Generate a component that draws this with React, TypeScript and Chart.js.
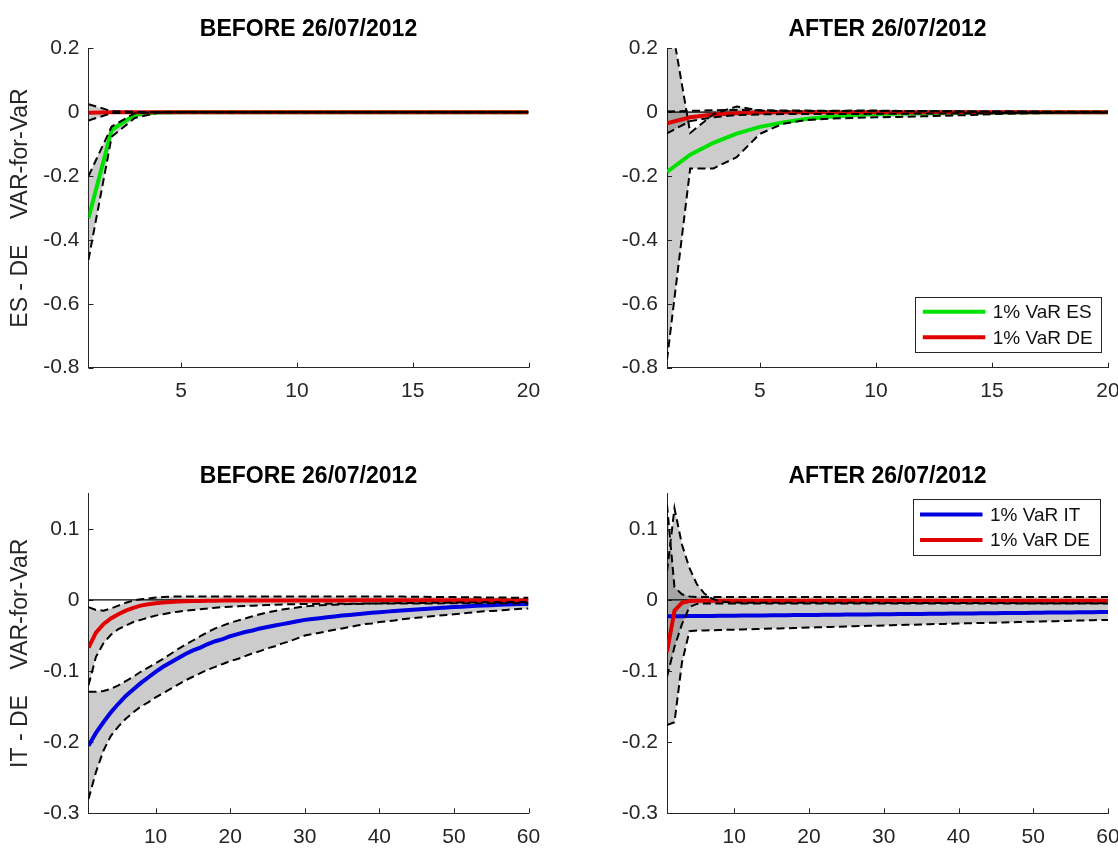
import React, { useEffect, useRef } from "react";
import { Chart, registerables } from "chart.js";

Chart.register(...registerables);

const FONT = '"Liberation Sans", Arial, Helvetica, sans-serif';
const INK = "#262626";
const BAND_FILL = "rgba(0,0,0,0.2)";
Chart.defaults.font.family = FONT;

// ---------------- categories / ticks / texts ----------------
const horizon20 = [1, 2, 3, 4, 5, 6, 7, 8, 9, 10, 11, 12, 13, 14, 15, 16, 17, 18, 19, 20];
const horizon60 = [
  1, 2, 3, 4, 5, 6, 7, 8, 9, 10, 11, 12, 13, 14, 15, 16, 17, 18, 19, 20,
  21, 22, 23, 24, 25, 26, 27, 28, 29, 30, 31, 32, 33, 34, 35, 36, 37, 38, 39, 40,
  41, 42, 43, 44, 45, 46, 47, 48, 49, 50, 51, 52, 53, 54, 55, 56, 57, 58, 59, 60,
];
const xTicks20 = [5, 10, 15, 20];
const xTicks60 = [10, 20, 30, 40, 50, 60];
const yTicksEs = [-0.8, -0.6, -0.4, -0.2, 0, 0.2];
const yTicksIt = [-0.3, -0.2, -0.1, 0, 0.1];
const titleBefore = "BEFORE 26/07/2012";
const titleAfter = "AFTER 26/07/2012";
const yLabelEs = "ES - DE    VAR-for-VaR";
const yLabelIt = "IT - DE    VAR-for-VaR";
const labelES = "1% VaR ES";
const labelDE = "1% VaR DE";
const labelIT = "1% VaR IT";

// ---------------- ES - DE, before ----------------
const esBeforeEs = [-0.332, -0.056, -0.008, -0.001, 0, 0, 0, 0, 0, 0, 0, 0, 0, 0, 0, 0, 0, 0, 0, 0];
const esBeforeEsLow = [-0.462, -0.077, -0.018, -0.002, 0, 0, 0, 0, 0, 0, 0, 0, 0, 0, 0, 0, 0, 0, 0, 0];
const esBeforeEsUp = [-0.2, -0.045, -0.003, 0, 0, 0, 0, 0, 0, 0, 0, 0, 0, 0, 0, 0, 0, 0, 0, 0];
const esBeforeDe = [-0.002, 0, 0, 0, 0, 0, 0, 0, 0, 0, 0, 0, 0, 0, 0, 0, 0, 0, 0, 0];
const esBeforeDeLow = [-0.026, -0.003, -0.001, 0, 0, 0, 0, 0, 0, 0, 0, 0, 0, 0, 0, 0, 0, 0, 0, 0];
const esBeforeDeUp = [0.025, 0.003, 0.001, 0, 0, 0, 0, 0, 0, 0, 0, 0, 0, 0, 0, 0, 0, 0, 0, 0];

// ---------------- ES - DE, after ----------------
const esAfterEs = [-0.187, -0.133, -0.096, -0.067, -0.046, -0.032, -0.021, -0.014, -0.009, -0.006, -0.004, -0.003, -0.002, -0.0015, -0.001, -0.001, -0.0005, 0, 0, 0];
const esAfterEsLow = [-0.775, -0.176, -0.176, -0.141, -0.068, -0.036, -0.025, -0.02, -0.018, -0.016, -0.015, -0.013, -0.011, -0.009, -0.006, -0.004, -0.003, -0.002, -0.002, -0.001];
const esAfterEsUp = [0.36, -0.065, -0.006, 0.018, 0.005, 0.003, 0.003, 0.004, 0.005, 0.005, 0.004, 0.004, 0.003, 0.002, 0.001, 0.001, 0.001, 0, 0, 0];
const esAfterDe = [-0.035, -0.016, -0.007, -0.003, -0.001, 0, 0, 0, 0, 0, 0, 0, 0, 0, 0, 0, 0, 0, 0, 0];
const esAfterDeLow = [-0.066, -0.028, -0.016, -0.009, -0.007, -0.006, -0.006, -0.006, -0.006, -0.005, -0.005, -0.004, -0.004, -0.003, -0.003, -0.002, -0.002, -0.001, -0.001, -0.001];
const esAfterDeUp = [0.002, 0.004, 0.006, 0.007, 0.006, 0.005, 0.005, 0.004, 0.004, 0.004, 0.003, 0.003, 0.003, 0.002, 0.002, 0.002, 0.001, 0.001, 0.001, 0.001];

// ---------------- IT - DE, before ----------------
const itBeforeIt = [
  -0.205, -0.187, -0.172, -0.158, -0.146, -0.135, -0.126, -0.117, -0.109, -0.101,
  -0.094, -0.088, -0.082, -0.076, -0.071, -0.067, -0.062, -0.058, -0.055, -0.051,
  -0.048, -0.045, -0.043, -0.04, -0.038, -0.036, -0.034, -0.032, -0.03, -0.028,
  -0.0268, -0.0256, -0.0244, -0.0232, -0.022, -0.021, -0.02, -0.019, -0.018, -0.0172,
  -0.0164, -0.0156, -0.0148, -0.014, -0.0133, -0.0126, -0.0119, -0.0112, -0.0106, -0.01,
  -0.0094, -0.0088, -0.0083, -0.0078, -0.0073, -0.0069, -0.0065, -0.0061, -0.0058, -0.0055,
];
const itBeforeItLow = [
  -0.28, -0.242, -0.212, -0.191, -0.178, -0.167, -0.158, -0.15, -0.144, -0.137,
  -0.131, -0.125, -0.119, -0.113, -0.108, -0.103, -0.098, -0.094, -0.09, -0.086,
  -0.083, -0.079, -0.075, -0.072, -0.068, -0.065, -0.061, -0.058, -0.054, -0.05,
  -0.048, -0.046, -0.044, -0.042, -0.04, -0.038, -0.036, -0.034, -0.033, -0.031,
  -0.03, -0.029, -0.027, -0.026, -0.025, -0.024, -0.023, -0.022, -0.021, -0.02,
  -0.019, -0.018, -0.017, -0.016, -0.0155, -0.015, -0.014, -0.013, -0.0125, -0.012,
];
const itBeforeItUp = [
  -0.129, -0.129, -0.128, -0.125, -0.12, -0.114, -0.108, -0.101, -0.095, -0.089,
  -0.083, -0.076, -0.069, -0.063, -0.057, -0.051, -0.045, -0.04, -0.036, -0.032,
  -0.029, -0.026, -0.023, -0.02, -0.0175, -0.0155, -0.0135, -0.012, -0.0105, -0.009,
  -0.0082, -0.0076, -0.0071, -0.0066, -0.0062, -0.0058, -0.0055, -0.0052, -0.005, -0.0048,
  -0.0046, -0.0045, -0.0044, -0.0043, -0.0042, -0.0041, -0.004, -0.0039, -0.0038, -0.0037,
  -0.0036, -0.0035, -0.0034, -0.0033, -0.0032, -0.0031, -0.003, -0.003, -0.0029, -0.0028,
];
const itBeforeDe = [
  -0.067, -0.046, -0.034, -0.026, -0.02, -0.015, -0.011, -0.008, -0.006, -0.0045,
  -0.0035, -0.0028, -0.0022, -0.0018, -0.0015, -0.0013, -0.0011, -0.001, -0.0009, -0.0008,
  -0.0008, -0.0007, -0.0007, -0.0007, -0.0007, -0.0006, -0.0006, -0.0006, -0.0006, -0.0006,
  -0.0006, -0.0006, -0.0006, -0.0006, -0.0006, -0.0005, -0.0005, -0.0005, -0.0005, -0.0005,
  -0.0005, -0.0005, -0.0005, -0.0005, -0.0005, -0.0005, -0.0005, -0.0005, -0.0005, -0.0005,
  -0.0005, -0.0005, -0.0005, -0.0005, -0.0005, -0.0005, -0.0005, -0.0005, -0.0005, -0.0005,
];
const itBeforeDeLow = [
  -0.12, -0.08, -0.061, -0.049, -0.041, -0.036, -0.031, -0.028, -0.025, -0.022,
  -0.02, -0.018, -0.0165, -0.015, -0.014, -0.013, -0.012, -0.011, -0.01, -0.0095,
  -0.009, -0.0085, -0.008, -0.0076, -0.0072, -0.0068, -0.0064, -0.006, -0.0058, -0.0056,
  -0.0055, -0.0054, -0.0054, -0.0053, -0.0053, -0.0052, -0.0052, -0.0051, -0.0051, -0.005,
  -0.005, -0.005, -0.0049, -0.0049, -0.0049, -0.0048, -0.0048, -0.0048, -0.0047, -0.0047,
  -0.0047, -0.0046, -0.0046, -0.0046, -0.0046, -0.0045, -0.0045, -0.0045, -0.0045, -0.0045,
];
const itBeforeDeUp = [
  -0.01, -0.014, -0.015, -0.012, -0.008, -0.004, -0.001, 0.001, 0.002, 0.0035,
  0.004, 0.0045, 0.005, 0.005, 0.005, 0.005, 0.005, 0.005, 0.005, 0.005,
  0.005, 0.005, 0.005, 0.005, 0.005, 0.005, 0.005, 0.005, 0.005, 0.005,
  0.005, 0.005, 0.005, 0.005, 0.005, 0.005, 0.005, 0.005, 0.005, 0.005,
  0.005, 0.0048, 0.0047, 0.0046, 0.0045, 0.0044, 0.0043, 0.0042, 0.0041, 0.004,
  0.0039, 0.0038, 0.0037, 0.0036, 0.0035, 0.0034, 0.0033, 0.0032, 0.0031, 0.003,
];

// ---------------- IT - DE, after ----------------
const itAfterIt = [
  -0.023, -0.0229, -0.0228, -0.0227, -0.0226, -0.0225, -0.0224, -0.0223, -0.0222, -0.0221,
  -0.022, -0.0219, -0.0218, -0.0217, -0.0216, -0.0215, -0.0214, -0.0213, -0.0212, -0.0211,
  -0.021, -0.0209, -0.0208, -0.0207, -0.0206, -0.0205, -0.0204, -0.0203, -0.0202, -0.0201,
  -0.02, -0.0199, -0.0198, -0.0197, -0.0196, -0.0195, -0.0194, -0.0193, -0.0192, -0.0191,
  -0.019, -0.0189, -0.0188, -0.0187, -0.0186, -0.0185, -0.0184, -0.0183, -0.0182, -0.0181,
  -0.018, -0.0178, -0.0177, -0.0176, -0.0175, -0.0173, -0.0172, -0.0171, -0.0169, -0.0168,
];
const itAfterItLow = [
  -0.176, -0.172, -0.088, -0.044, -0.043, -0.0428, -0.0425, -0.0423, -0.042, -0.0418,
  -0.0415, -0.0412, -0.0409, -0.0406, -0.0403, -0.04, -0.0397, -0.0394, -0.0391, -0.0388,
  -0.0385, -0.0382, -0.0379, -0.0376, -0.0373, -0.037, -0.0367, -0.0364, -0.0361, -0.0358,
  -0.0355, -0.0353, -0.035, -0.0347, -0.0345, -0.0342, -0.0339, -0.0337, -0.0334, -0.0332,
  -0.0329, -0.0326, -0.0324, -0.0321, -0.0319, -0.0316, -0.0313, -0.0311, -0.0308, -0.0306,
  -0.0303, -0.03, -0.0298, -0.0295, -0.0293, -0.029, -0.0287, -0.0285, -0.0282, -0.028,
];
const itAfterItUp = [
  0.04, 0.129, 0.078, 0.045, 0.022, 0.009, 0.002, -0.002, -0.003, -0.0035,
  -0.004, -0.004, -0.004, -0.004, -0.004, -0.004, -0.004, -0.004, -0.004, -0.004,
  -0.004, -0.004, -0.004, -0.004, -0.004, -0.004, -0.004, -0.004, -0.004, -0.004,
  -0.0041, -0.0041, -0.0041, -0.0041, -0.0042, -0.0042, -0.0042, -0.0042, -0.0043, -0.0043,
  -0.0043, -0.0043, -0.0044, -0.0044, -0.0044, -0.0044, -0.0044, -0.0045, -0.0045, -0.0045,
  -0.0045, -0.0045, -0.0045, -0.0045, -0.0045, -0.0045, -0.0045, -0.0045, -0.0045, -0.0045,
];
const itAfterDe = [
  -0.073, -0.015, -0.004, -0.0015, -0.001, -0.001, -0.001, -0.001, -0.001, -0.001,
  -0.001, -0.001, -0.001, -0.001, -0.001, -0.001, -0.001, -0.001, -0.001, -0.001,
  -0.001, -0.001, -0.001, -0.001, -0.001, -0.001, -0.001, -0.001, -0.001, -0.001,
  -0.001, -0.001, -0.001, -0.001, -0.001, -0.001, -0.001, -0.001, -0.001, -0.001,
  -0.001, -0.001, -0.001, -0.001, -0.001, -0.001, -0.001, -0.001, -0.001, -0.001,
  -0.001, -0.001, -0.001, -0.001, -0.001, -0.001, -0.001, -0.001, -0.001, -0.001,
];
const itAfterDeLow = [
  -0.108, -0.066, -0.034, -0.01, -0.0055, -0.005, -0.005, -0.005, -0.005, -0.005,
  -0.005, -0.005, -0.005, -0.005, -0.005, -0.005, -0.005, -0.005, -0.005, -0.005,
  -0.005, -0.005, -0.005, -0.005, -0.005, -0.005, -0.005, -0.005, -0.005, -0.005,
  -0.005, -0.005, -0.005, -0.005, -0.005, -0.005, -0.005, -0.005, -0.005, -0.005,
  -0.005, -0.005, -0.005, -0.005, -0.005, -0.005, -0.005, -0.005, -0.005, -0.005,
  -0.005, -0.005, -0.005, -0.005, -0.005, -0.005, -0.005, -0.005, -0.005, -0.005,
];
const itAfterDeUp = [
  0.134, 0.018, 0.008, 0.005, 0.004, 0.004, 0.004, 0.004, 0.004, 0.004,
  0.004, 0.004, 0.004, 0.004, 0.004, 0.004, 0.004, 0.004, 0.004, 0.004,
  0.004, 0.004, 0.004, 0.004, 0.004, 0.004, 0.004, 0.004, 0.004, 0.004,
  0.004, 0.004, 0.004, 0.004, 0.004, 0.004, 0.004, 0.004, 0.004, 0.004,
  0.004, 0.004, 0.004, 0.004, 0.004, 0.004, 0.004, 0.004, 0.004, 0.004,
  0.004, 0.004, 0.004, 0.004, 0.004, 0.004, 0.004, 0.004, 0.004, 0.004,
];

// ---------------- styles ----------------
const GREEN = "rgb(0,225,0)";
const RED = "rgb(225,0,0)";
const BLUE = "rgb(0,0,225)";
const TICK_FONT_SIZE = 21;
const TITLE_FONT = `bold 23px ${FONT}`;
const LEGEND_FONT = `19px ${FONT}`;

type Band = { lower: number[]; upper: number[] };
type SeriesSpec = { label: string; color: string; mid: number[]; band: Band };
type LegendSpec = { insetRight: number; insetTop?: number; insetBottom?: number; width: number; height: number };
type PanelSpec = {
  title: string;
  yLabel: string | null;
  horizon: number[];
  xTicks: number[];
  yTicks: number[];
  yMin: number;
  yMax: number;
  series: SeriesSpec[];
  legend: LegendSpec | null;
  box: { left: number; top: number; width: number; height: number };
  area: { left: number; right: number; top: number; bottom: number };
  titleY: number;
};

const panels: PanelSpec[] = [
  {
    title: titleBefore,
    yLabel: yLabelEs,
    horizon: horizon20,
    xTicks: xTicks20,
    yTicks: yTicksEs,
    yMin: -0.8,
    yMax: 0.2,
    series: [
      { label: labelES, color: GREEN, mid: esBeforeEs, band: { lower: esBeforeEsLow, upper: esBeforeEsUp } },
      { label: labelDE, color: RED, mid: esBeforeDe, band: { lower: esBeforeDeLow, upper: esBeforeDeUp } },
    ],
    legend: null,
    box: { left: 0, top: 0, width: 559, height: 424 },
    area: { left: 88.5, right: 528.5, top: 48.3, bottom: 367.7 },
    titleY: 30,
  },
  {
    title: titleAfter,
    yLabel: null,
    horizon: horizon20,
    xTicks: xTicks20,
    yTicks: yTicksEs,
    yMin: -0.8,
    yMax: 0.2,
    series: [
      { label: labelES, color: GREEN, mid: esAfterEs, band: { lower: esAfterEsLow, upper: esAfterEsUp } },
      { label: labelDE, color: RED, mid: esAfterDe, band: { lower: esAfterDeLow, upper: esAfterDeUp } },
    ],
    legend: { insetRight: 6.7, insetBottom: 16.7, width: 186, height: 54.5 },
    box: { left: 559, top: 0, width: 600, height: 424 },
    area: { left: 108, right: 549, top: 48.3, bottom: 367.7 },
    titleY: 30,
  },
  {
    title: titleBefore,
    yLabel: yLabelIt,
    horizon: horizon60,
    xTicks: xTicks60,
    yTicks: yTicksIt,
    yMin: -0.3,
    yMax: 0.15,
    series: [
      { label: labelIT, color: BLUE, mid: itBeforeIt, band: { lower: itBeforeItLow, upper: itBeforeItUp } },
      { label: labelDE, color: RED, mid: itBeforeDe, band: { lower: itBeforeDeLow, upper: itBeforeDeUp } },
    ],
    legend: null,
    box: { left: 0, top: 424, width: 559, height: 425 },
    area: { left: 88.5, right: 528.5, top: 69.3, bottom: 389.3 },
    titleY: 52.7,
  },
  {
    title: titleAfter,
    yLabel: null,
    horizon: horizon60,
    xTicks: xTicks60,
    yTicks: yTicksIt,
    yMin: -0.3,
    yMax: 0.15,
    series: [
      { label: labelIT, color: BLUE, mid: itAfterIt, band: { lower: itAfterItLow, upper: itAfterItUp } },
      { label: labelDE, color: RED, mid: itAfterDe, band: { lower: itAfterDeLow, upper: itAfterDeUp } },
    ],
    legend: { insetRight: 8.5, insetTop: 6, width: 187, height: 55.5 },
    box: { left: 559, top: 424, width: 600, height: 425 },
    area: { left: 108, right: 549, top: 69.3, bottom: 389.3 },
    titleY: 52.7,
  },
];

// ---------------- plugins ----------------
const inwardTicks = {
  id: "inwardTicks",
  beforeDatasetsDraw(chart: any) {
    const { ctx, chartArea, scales } = chart;
    const len = 5;
    ctx.save();
    ctx.strokeStyle = INK;
    ctx.lineWidth = 1;
    scales.x.ticks.forEach((t: any) => {
      const px = Math.round(scales.x.getPixelForValue(t.value)) + 0.5;
      ctx.beginPath();
      ctx.moveTo(px, chartArea.bottom);
      ctx.lineTo(px, chartArea.bottom - len);
      ctx.stroke();
    });
    scales.y.ticks.forEach((t: any) => {
      const py = Math.round(scales.y.getPixelForValue(t.value)) + 0.5;
      ctx.beginPath();
      ctx.moveTo(chartArea.left, py);
      ctx.lineTo(chartArea.left + len, py);
      ctx.stroke();
    });
    ctx.restore();
  },
};

const panelTitle = {
  id: "panelTitle",
  afterDraw(chart: any, _args: any, opts: any) {
    if (!opts || !opts.text) return;
    const { ctx, chartArea } = chart;
    ctx.save();
    ctx.font = TITLE_FONT;
    ctx.fillStyle = "#000";
    ctx.textAlign = "center";
    ctx.textBaseline = "middle";
    ctx.fillText(opts.text, (chartArea.left + chartArea.right) / 2, opts.y);
    ctx.restore();
  },
};

const boxLegend = {
  id: "boxLegend",
  afterDatasetsDraw(chart: any, _args: any, opts: any) {
    if (!opts || !opts.enabled) return;
    const { ctx, chartArea } = chart;
    const entries = chart.data.datasets.filter((d: any) => d.legendEntry);
    const w = opts.width;
    const h = opts.height;
    const x0 = chartArea.right - opts.insetRight - w;
    const y0 = opts.insetTop != null ? chartArea.top + opts.insetTop : chartArea.bottom - opts.insetBottom - h;
    ctx.save();
    ctx.fillStyle = "#fff";
    ctx.fillRect(x0, y0, w, h);
    ctx.strokeStyle = INK;
    ctx.lineWidth = 1;
    ctx.strokeRect(Math.round(x0) + 0.5, Math.round(y0) + 0.5, Math.round(w), Math.round(h));
    entries.forEach((d: any, i: number) => {
      const cy = y0 + 15.3 + i * 25.5;
      ctx.strokeStyle = d.borderColor;
      ctx.lineWidth = 4;
      ctx.beginPath();
      ctx.moveTo(x0 + 7.5, cy);
      ctx.lineTo(x0 + 70, cy);
      ctx.stroke();
      ctx.fillStyle = "#111";
      ctx.font = LEGEND_FONT;
      ctx.textAlign = "left";
      ctx.textBaseline = "middle";
      ctx.fillText(d.label, x0 + 77.5, cy + 1);
    });
    ctx.restore();
  },
};

const toPoints = (xs: number[], ys: number[]) => ys.map((y, i) => ({ x: xs[i], y }));

function Panel({ spec }: { spec: PanelSpec }) {
  const ref = useRef<HTMLCanvasElement | null>(null);
  useEffect(() => {
    const canvas = ref.current;
    if (!canvas) return;
    const { box, area } = spec;
    const xAxisHeight = 30;
    const datasets: any[] = [];
    spec.series.forEach((s) => {
      datasets.push({
        label: s.label + " lower",
        data: toPoints(spec.horizon, s.band.lower),
        borderColor: "#000",
        borderWidth: 2,
        borderDash: [8, 4.5],
        backgroundColor: BAND_FILL,
        fill: "+1",
        pointRadius: 0,
        order: 0,
      });
      datasets.push({
        label: s.label + " upper",
        data: toPoints(spec.horizon, s.band.upper),
        borderColor: "#000",
        borderWidth: 2,
        borderDash: [8, 4.5],
        fill: false,
        pointRadius: 0,
        order: 0,
      });
    });
    spec.series.forEach((s, i) => {
      datasets.push({
        label: s.label,
        data: toPoints(spec.horizon, s.mid),
        borderColor: s.color,
        borderWidth: 4,
        fill: false,
        pointRadius: 0,
        order: 1 + (spec.series.length - 1 - i) * 0.1,
        legendEntry: true,
      });
    });
    const first = spec.horizon[0];
    const last = spec.horizon[spec.horizon.length - 1];
    datasets.push({
      label: "zero",
      data: [
        { x: first, y: 0 },
        { x: last, y: 0 },
      ],
      borderColor: "#000",
      borderWidth: 1.3,
      fill: false,
      pointRadius: 0,
      order: 2,
    });

    const fmtY = (v: number) => {
      const r = Math.round(v * 100) / 100;
      return r === 0 ? "0" : String(r);
    };

    const chart = new Chart(canvas, {
      type: "line",
      data: { datasets },
      options: {
        responsive: false,
        maintainAspectRatio: false,
        animation: false,
        events: [],
        layout: {
          padding: {
            left: 0,
            top: area.top,
            right: box.width - area.right,
            bottom: box.height - area.bottom - xAxisHeight,
          },
        },
        elements: { line: { tension: 0 }, point: { radius: 0 } },
        plugins: {
          legend: { display: false },
          tooltip: { enabled: false },
          filler: { propagate: false, drawTime: "beforeDatasetsDraw" },
          panelTitle: { text: spec.title, y: spec.titleY },
          boxLegend: spec.legend ? { enabled: true, ...spec.legend } : { enabled: false },
        } as any,
        scales: {
          x: {
            type: "linear",
            min: first,
            max: last,
            afterBuildTicks: (ax: any) => {
              ax.ticks = spec.xTicks.map((v) => ({ value: v }));
            },
            afterFit: (ax: any) => {
              ax.height = xAxisHeight;
            },
            grid: { display: true, drawOnChartArea: false, drawTicks: false },
            border: { display: true, color: INK, width: 1 },
            ticks: {
              color: INK,
              font: { family: FONT, size: TICK_FONT_SIZE },
              padding: 11,
              maxRotation: 0,
              autoSkip: false,
              callback: (v: any) => String(v),
            },
          },
          y: {
            type: "linear",
            min: spec.yMin,
            max: spec.yMax,
            afterBuildTicks: (ax: any) => {
              ax.ticks = spec.yTicks.map((v) => ({ value: v }));
            },
            afterFit: (ax: any) => {
              ax.width = area.left;
            },
            grid: { display: true, drawOnChartArea: false, drawTicks: false },
            border: { display: true, color: INK, width: 1 },
            ticks: {
              color: INK,
              font: { family: FONT, size: TICK_FONT_SIZE },
              padding: 9,
              autoSkip: false,
              callback: (v: any) => fmtY(Number(v)),
            },
            title: {
              display: !!spec.yLabel,
              text: spec.yLabel || "",
              color: INK,
              font: { family: FONT, size: 23 },
              padding: { top: 7, bottom: 0 },
            },
          },
        },
      } as any,
      plugins: [inwardTicks, panelTitle, boxLegend],
    });
    return () => chart.destroy();
  }, [spec]);

  return (
    <canvas
      ref={ref}
      width={spec.box.width}
      height={spec.box.height}
      style={{
        position: "absolute",
        left: spec.box.left,
        top: spec.box.top,
        width: spec.box.width,
        height: spec.box.height,
      }}
    />
  );
}

export default function App() {
  return (
    <div
      style={{
        position: "absolute",
        left: 0,
        top: 0,
        width: 1118,
        height: 849,
        overflow: "hidden",
        background: "#fff",
      }}
    >
      {panels.map((p, i) => (
        <Panel key={i} spec={p} />
      ))}
    </div>
  );
}
